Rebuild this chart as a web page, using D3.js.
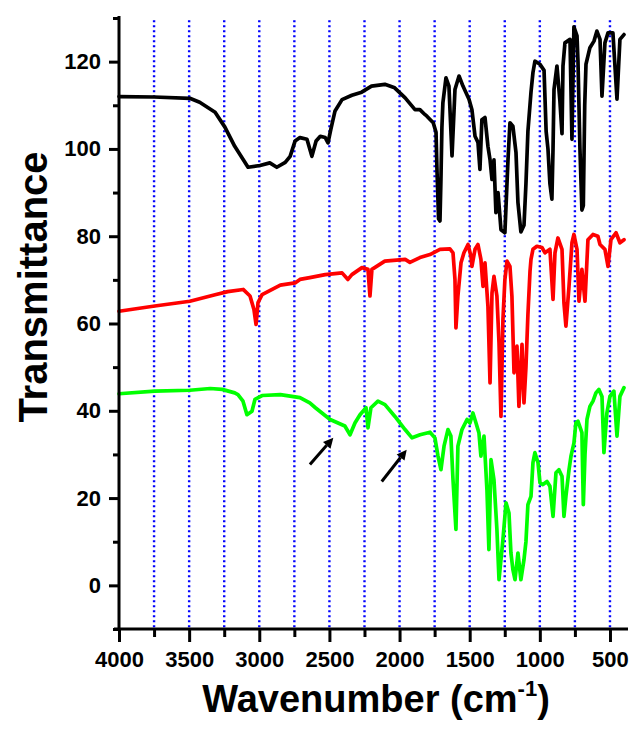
<!DOCTYPE html>
<html><head><meta charset="utf-8">
<script src="https://cdn.jsdelivr.net/npm/d3@7"></script>
<style>body{margin:0;background:#fff}svg{display:block}</style>
</head><body><svg id="c" width="633" height="734"></svg>
<script>
const blackWn=[4000,3750,3495,3425,3315,3245,3175,3115,3080,2995,2925,2875,2815,2780,2745,2710,2660,2625,2595,2565,2530,2510,2490,2460,2410,2340,2270,2200,2105,2035,1960,1890,1855,1820,1805,1760,1740,1733,1722,1712,1705,1698,1691,1669,1648,1626,1605,1576,1548,1505,1484,1462,1441,1427,1413,1391,1370,1355,1341,1327,1313,1298,1277,1249,1227,1213,1192,1170,1156,1135,1113,1099,1085,1063,1049,1035,999,970,955,942,928,914,906,899,878,857,842,835,821,785,771,757,735,728,714,700,690,680,671,643,614,593,571,557,536,514,479,450,429,400];
const blackT=[112.0,111.9,111.6,110.7,108.4,105.0,100.6,97.6,95.8,96.2,96.8,95.8,96.9,98.3,101.8,102.6,102.2,98.3,101.8,102.9,102.6,101.4,104.5,108.7,111.3,112.3,113.0,114.4,114.8,114.0,111.7,109.0,109.0,107.9,107.5,106.0,103.8,95.0,84.0,83.5,93.0,105.0,110.6,116.3,114.4,98.4,113.6,116.7,114.4,111.4,109.0,102.9,101.5,95.3,106.7,107.2,100.6,97.5,93.0,97.5,85.4,90.0,81.5,80.8,97.5,106.0,105.2,99.2,87.7,81.0,82.5,92.0,104.0,113.0,117.5,120.1,119.4,118.0,104.0,100.0,92.0,88.5,100.0,113.6,119.0,111.0,103.5,119.0,124.3,125.1,102.2,128.0,125.9,120.0,100.0,86.0,87.0,110.0,119.4,123.2,124.7,127.0,125.1,112.1,124.3,126.6,126.6,111.4,125.1,126.2];

const redWn=[4000,3745,3495,3315,3225,3115,3066,3038,3023,3009,2980,2850,2745,2710,2640,2530,2410,2368,2340,2268,2225,2211,2197,2105,1960,1926,1855,1783,1712,1641,1619,1605,1598,1584,1562,1541,1512,1491,1484,1462,1441,1420,1405,1391,1370,1355,1341,1327,1306,1291,1277,1263,1249,1234,1213,1199,1184,1163,1149,1127,1113,1099,1085,1070,1063,1049,1021,985,963,928,906,892,871,842,828,814,792,771,757,735,721,700,678,657,621,586,571,536,514,493,457,429,400];
const redT=[62.8,64.0,65.1,66.6,67.3,67.8,66.3,63.2,59.8,64.8,66.6,68.8,69.3,70.1,70.5,71.2,71.6,70.1,71.2,72.8,72.4,66.3,72.4,74.3,74.7,74.0,75.1,75.8,77.0,77.1,76.2,70.1,59.0,66.3,73.9,76.2,78.1,75.4,73.1,77.0,78.1,74.7,68.5,73.9,64.0,46.4,67.0,70.8,66.3,55.6,38.7,60.9,70.1,74.3,73.1,66.3,48.7,54.8,41.0,55.2,41.8,50.0,62.0,72.0,74.7,77.0,77.7,77.4,76.2,77.0,65.5,76.2,79.6,77.0,64.7,59.4,68.5,78.5,80.4,77.0,65.1,72.4,65.1,79.2,80.4,80.0,78.1,77.0,73.1,79.2,80.8,78.5,79.2];

const greenWn=[4000,3745,3495,3350,3265,3175,3152,3116,3088,3052,3031,2980,2850,2710,2640,2600,2495,2390,2353,2318,2282,2239,2225,2204,2154,2104,2033,1961,1911,1854,1783,1748,1726,1705,1683,1655,1634,1619,1598,1584,1555,1519,1498,1477,1455,1434,1420,1398,1377,1363,1348,1327,1306,1291,1263,1241,1220,1206,1192,1177,1156,1135,1113,1099,1085,1063,1049,1035,1013,999,978,949,928,906,885,864,842,828,814,792,778,757,743,728,700,690,678,664,643,621,600,579,557,543,522,500,472,450,429,400];
const greenT=[43.9,44.5,44.7,45.1,44.9,44.1,43.7,42.2,39.1,39.9,42.6,43.5,43.7,43.0,41.8,40.7,38.0,36.5,34.5,37.2,39.1,40.7,36.1,40.7,42.2,41.4,38.7,35.7,33.8,34.5,35.1,33.8,29.6,26.5,31.9,35.7,34.2,24.2,12.8,31.9,35.7,38.0,37.2,39.5,37.2,34.9,29.6,34.2,21.9,8.2,28.8,24.2,12.8,1.3,10.5,18.9,16.6,7.4,3.6,1.3,7.4,1.3,5.9,10.0,18.5,20.4,28.1,30.4,28.1,23.5,23.1,23.8,22.7,15.8,25.8,26.5,25.0,15.8,20.4,26.5,29.6,32.6,37.2,37.6,35.0,18.5,30.0,38.0,41.0,42.2,44.1,44.9,43.3,30.4,39.5,43.3,44.5,34.2,43.3,45.3];

const yMajor=[0,20,40,60,80,100,120];
const yMinor=[-10,10,30,50,70,90,110,130];
const xMajor=[4000,3500,3000,2500,2000,1500,1000,500];
const xMinor=[3750,3250,2750,2250,1750,1250,750];
const gridWn=[3750,3500,3250,3000,2750,2500,2250,2000,1750,1500,1250,1000,750,500];
const arrowFrom=[[2639,27.7],[2127,23.8]];
const arrowTo=[[2472,33.8],[1949,31.1]];

const FONT='"Liberation Sans", Arial, Helvetica, sans-serif';
const svg=d3.select('#c');
svg.append('rect').attr('width',633).attr('height',734).attr('fill','#fff');
const x=d3.scaleLinear().domain([4000,400]).range([119,624]);
const y=d3.scaleLinear().domain([-10,130]).range([629,18]);

// dotted grid
svg.append('g').selectAll('line').data(gridWn).join('line')
  .attr('x1',d=>x(d)).attr('x2',d=>x(d))
  .attr('y1',y(129.5)).attr('y2',y(-10))
  .attr('stroke','#0000ff').attr('stroke-width',2.4).attr('stroke-dasharray','2,3');

// spectra
const line=d3.line().x(d=>x(d[0])).y(d=>y(d[1]));
const series=[[greenWn,greenT,'#00ff00'],[redWn,redT,'#ff0000'],[blackWn,blackT,'#000000']];
series.forEach(([w,t,c])=>{
  svg.append('path').datum(d3.zip(w,t)).attr('d',line)
    .attr('fill','none').attr('stroke',c).attr('stroke-width',3.7)
    .attr('stroke-linejoin','round').attr('stroke-linecap','round');
});

// arrows
arrowFrom.forEach((f,i)=>{
  const t=arrowTo[i];
  const x1=x(f[0]),y1=y(f[1]),x2=x(t[0]),y2=y(t[1]);
  const a=Math.atan2(y2-y1,x2-x1), L=10, W=5;
  const bx=x2-L*Math.cos(a), by=y2-L*Math.sin(a);
  svg.append('line').attr('x1',x1).attr('y1',y1).attr('x2',bx).attr('y2',by)
    .attr('stroke','#000').attr('stroke-width',3);
  svg.append('path').attr('d',`M${x2},${y2}L${bx+W*Math.sin(a)},${by-W*Math.cos(a)}L${bx-W*Math.sin(a)},${by+W*Math.cos(a)}Z`)
    .attr('fill','#000');
});

// axes
const styleAxis=g=>{
  g.select('.domain').remove();
  g.selectAll('line').attr('stroke','#000').attr('stroke-width',3);
  g.selectAll('text').attr('font-family',FONT).attr('font-size',22).attr('font-weight','bold').attr('fill','#000');
};
svg.append('g').attr('transform','translate(119,0)')
  .call(d3.axisLeft(y).tickValues(yMajor).tickSize(10).tickPadding(8).tickFormat(d3.format('d'))).call(styleAxis);
svg.append('g').attr('transform','translate(119,0)')
  .call(d3.axisLeft(y).tickValues(yMinor).tickSize(6).tickFormat('')).call(styleAxis);
svg.append('g').attr('transform','translate(0,629)')
  .call(d3.axisBottom(x).tickValues(xMajor).tickSize(13).tickPadding(9).tickFormat(d3.format('d'))).call(styleAxis);
svg.append('g').attr('transform','translate(0,629)')
  .call(d3.axisBottom(x).tickValues(xMinor).tickSize(8).tickFormat('')).call(styleAxis);

svg.append('line').attr('x1',119).attr('x2',119).attr('y1',16).attr('y2',630.5).attr('stroke','#000').attr('stroke-width',3);
svg.append('line').attr('x1',114).attr('x2',628).attr('y1',629).attr('y2',629).attr('stroke','#000').attr('stroke-width',3);

// titles
svg.append('text').attr('transform','translate(47,287) rotate(-90)')
  .attr('text-anchor','middle').attr('font-family',FONT).attr('font-size',40).attr('font-weight','bold')
  .text('Transmittance');
const xt=svg.append('text').attr('x',376).attr('y',712).attr('text-anchor','middle')
  .attr('font-family',FONT).attr('font-size',38).attr('font-weight','bold');
xt.append('tspan').text('Wavenumber (cm');
xt.append('tspan').attr('font-size',22).attr('dy',-16).text('-1');
xt.append('tspan').attr('dy',16).text(')');
</script></body></html>
